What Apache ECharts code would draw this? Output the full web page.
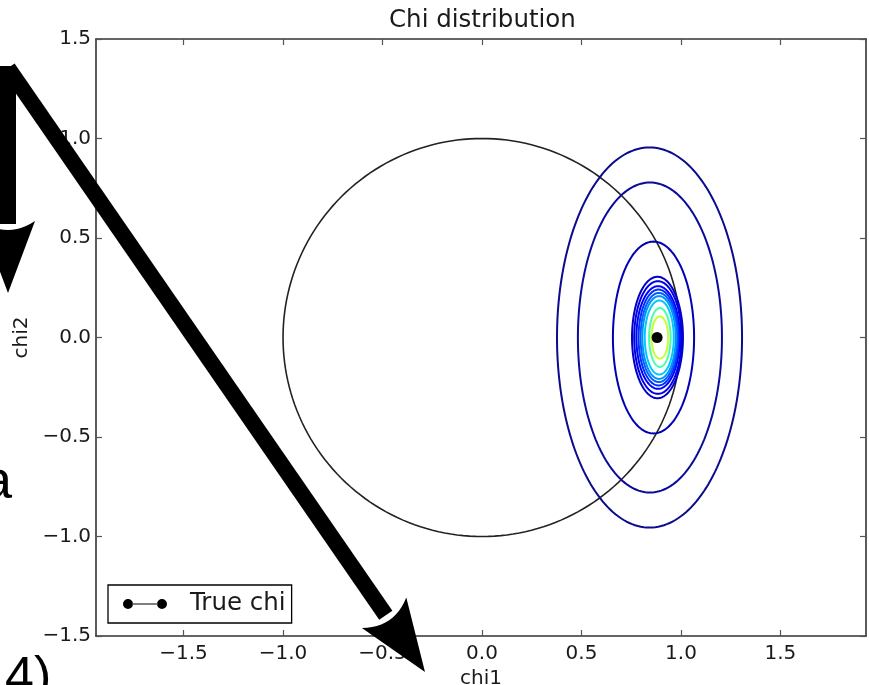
<!DOCTYPE html>
<html>
<head>
<meta charset="utf-8">
<script src="https://cdn.jsdelivr.net/npm/echarts@6/dist/echarts.min.js"></script>
<style>
  html, body { margin: 0; padding: 0; background: #fff; }
  #chart { width: 869px; height: 685px; }
</style>
</head>
<body>
<div id="chart"></div>
<script>
// ---------- data ----------
const xRange = [-1.94, 1.93];
const yRange = [-1.5, 1.5];
const xTicks = [-1.5, -1.0, -0.5, 0.0, 0.5, 1.0, 1.5];
const yTicks = [-1.5, -1.0, -0.5, 0.0, 0.5, 1.0, 1.5];

// unit circle |chi| = 1
const circleCenterX = [0];
const circleCenterY = [0];
const circleRadius = [1];

// contour ellipses of the chi distribution (outer -> inner)
const contourCenterX = [0.842, 0.844, 0.862, 0.882, 0.884, 0.885, 0.887, 0.889, 0.890, 0.891, 0.894, 0.894];
const contourCenterY = [0, 0, 0, 0, 0, 0, 0, 0, 0, 0, 0, 0];
const contourHalfWidth = [0.465, 0.362, 0.204, 0.128, 0.119, 0.109, 0.100, 0.092, 0.084, 0.073, 0.054, 0.042];
const contourHalfHeight = [0.955, 0.779, 0.482, 0.305, 0.283, 0.258, 0.241, 0.224, 0.208, 0.186, 0.148, 0.106];

// true chi point
const trueChi = [0.88, 0.0];
const legendLabels = ['True chi'];

// ---------- styles ----------
const contourColors = ['#0b0b8e', '#0b0b9a', '#0000b4', '#0000c8', '#0000e4', '#0000ff',
  '#0030ff', '#0060ff', '#0090ff', '#00c8ff', '#46ffb0', '#c6ff32'];
const FONT = 'DejaVu Sans';
const TXT = '#1a1a1a';
const AXIS = '#333';

const fmt = v => (v < 0 ? '\u2212' : '') + Math.abs(v).toFixed(1);

function ellipseRenderer(colors, width) {
  return function (params, api) {
    const cx = api.value(0), cy = api.value(1), rx = api.value(2), ry = api.value(3);
    const pts = [];
    const N = 200;
    for (let k = 0; k < N; k++) {
      const t = 2 * Math.PI * k / N;
      pts.push(api.coord([cx + rx * Math.cos(t), cy + ry * Math.sin(t)]));
    }
    return {
      type: 'polygon',
      shape: { points: pts },
      style: { fill: 'none', stroke: colors[params.dataIndex % colors.length], lineWidth: width }
    };
  };
}

// ---------- overlay annotations (arrows on top of the figure) ----------
function arrowEls(x0, y0, x1, y1) {
  const L = Math.hypot(x1 - x0, y1 - y0);
  const ux = (x1 - x0) / L, uy = (y1 - y0) / L;
  const nx = -uy, ny = ux;
  const H = 72, W = 27, hw = 8;
  const ex = x1 - ux * (H - 3), ey = y1 - uy * (H - 3);
  const shaft = [[x0 + nx * hw, y0 + ny * hw], [ex + nx * hw, ey + ny * hw], [ex - nx * hw, ey - ny * hw], [x0 - nx * hw, y0 - ny * hw]];
  const bx = x1 - ux * H, by = y1 - uy * H;
  const c1 = [bx + nx * W, by + ny * W], c2 = [bx - nx * W, by - ny * W];
  const ctl = [x1 - ux * (H - 18), y1 - uy * (H - 18)];
  const head = [[x1, y1], c1];
  for (let k = 1; k < 12; k++) {
    const t = k / 12;
    head.push([(1 - t) * (1 - t) * c1[0] + 2 * (1 - t) * t * ctl[0] + t * t * c2[0],
               (1 - t) * (1 - t) * c1[1] + 2 * (1 - t) * t * ctl[1] + t * t * c2[1]]);
  }
  head.push(c2);
  return [
    { type: 'polygon', z: 100, silent: true, shape: { points: shaft }, style: { fill: '#000' } },
    { type: 'polygon', z: 100, silent: true, shape: { points: head }, style: { fill: '#000' } }
  ];
}

const overlay = [].concat(
  arrowEls(8, 66, 8, 293),
  arrowEls(8, 68, 425, 672)
);

const legendIcon = 'path://M0,5A5,5,0,1,0,10,5A5,5,0,1,0,0,5Z M34,5A5,5,0,1,0,44,5A5,5,0,1,0,34,5Z M9.6,4.4H34.4V5.6H9.6Z';

function xAxisCfg(pos) {
  return {
    type: 'value', position: pos, min: xRange[0], max: xRange[1],
    axisLine: { show: true, onZero: false, lineStyle: { color: AXIS, width: 1.6 } },
    axisTick: { show: true, inside: true, length: 6, customValues: xTicks, lineStyle: { color: '#555', width: 1.2 } },
    axisLabel: pos === 'bottom'
      ? { show: true, customValues: xTicks, formatter: fmt, fontSize: 20, fontFamily: FONT, color: TXT, margin: 8 }
      : { show: false },
    splitLine: { show: false },
    name: pos === 'bottom' ? 'chi1' : '',
    nameLocation: 'middle', nameGap: 28,
    nameTextStyle: { fontSize: 20, fontFamily: FONT, color: TXT }
  };
}
function yAxisCfg(pos) {
  return {
    type: 'value', position: pos, min: yRange[0], max: yRange[1],
    axisLine: { show: true, onZero: false, lineStyle: { color: AXIS, width: 1.6 } },
    axisTick: { show: true, inside: true, length: 6, customValues: yTicks, lineStyle: { color: '#555', width: 1.2 } },
    axisLabel: pos === 'left'
      ? { show: true, customValues: yTicks, formatter: fmt, fontSize: 20, fontFamily: FONT, color: TXT, margin: 5 }
      : { show: false },
    splitLine: { show: false },
    name: pos === 'left' ? 'chi2' : '',
    nameLocation: 'middle', nameGap: 60,
    nameTextStyle: { fontSize: 20, fontFamily: FONT, color: TXT }
  };
}

const SANS = 'Liberation Sans';
const chart = echarts.init(document.getElementById('chart'), null, { renderer: 'canvas' });
chart.setOption({
  animation: false,
  backgroundColor: '#fff',
  title: [
    {
      text: 'Chi distribution', left: 389, top: 8, padding: 0,
      textStyle: { fontSize: 24.5, fontWeight: 'normal', fontFamily: FONT, color: TXT }
    },
    {
      text: 'a', left: -18, top: 456, padding: 0, z: 20,
      textStyle: { fontSize: 54, fontWeight: 'normal', fontFamily: SANS, color: '#000', lineHeight: 54 }
    },
    {
      text: '4)', left: 5, top: 653, padding: 0, z: 20,
      textStyle: { fontSize: 52, fontWeight: 'normal', fontFamily: SANS, color: '#000', lineHeight: 52 }
    }
  ],
  grid: { left: 96, top: 39, right: 3, bottom: 49, outerBoundsMode: 'none', containLabel: false },
  xAxis: [xAxisCfg('bottom'), xAxisCfg('top')],
  yAxis: [yAxisCfg('left'), yAxisCfg('right')],
  legend: {
    left: 108, top: 585, orient: 'horizontal',
    padding: [6, 6, 6, 15],
    itemWidth: 44, itemHeight: 10,
    icon: legendIcon,
    borderColor: '#000', borderWidth: 1.3, borderRadius: 0,
    backgroundColor: '#fff',
    textStyle: { fontSize: 24.5, fontFamily: FONT, color: TXT, lineHeight: 26, padding: [0, 0, 0, 18] },
    data: legendLabels
  },
  series: [
    {
      type: 'custom', name: 'circle', xAxisIndex: 0, yAxisIndex: 0, silent: true, z: 2,
      encode: { x: 0, y: 1 },
      data: circleCenterX.map((c, i) => [c, circleCenterY[i], circleRadius[i], circleRadius[i]]),
      renderItem: ellipseRenderer(['#222'], 1.6)
    },
    {
      type: 'custom', name: 'contours', xAxisIndex: 0, yAxisIndex: 0, silent: true, z: 3,
      encode: { x: 0, y: 1 },
      data: contourCenterX.map((c, i) => [c, contourCenterY[i], contourHalfWidth[i], contourHalfHeight[i]]),
      renderItem: ellipseRenderer(contourColors, 2)
    },
    {
      type: 'line', name: legendLabels[0], xAxisIndex: 0, yAxisIndex: 0, z: 5,
      data: [trueChi],
      symbol: 'circle', symbolSize: 11,
      itemStyle: { color: '#000' },
      lineStyle: { color: '#000', width: 1.2 }
    }
  ],
  graphic: { elements: overlay }
});
</script>
</body>
</html>
